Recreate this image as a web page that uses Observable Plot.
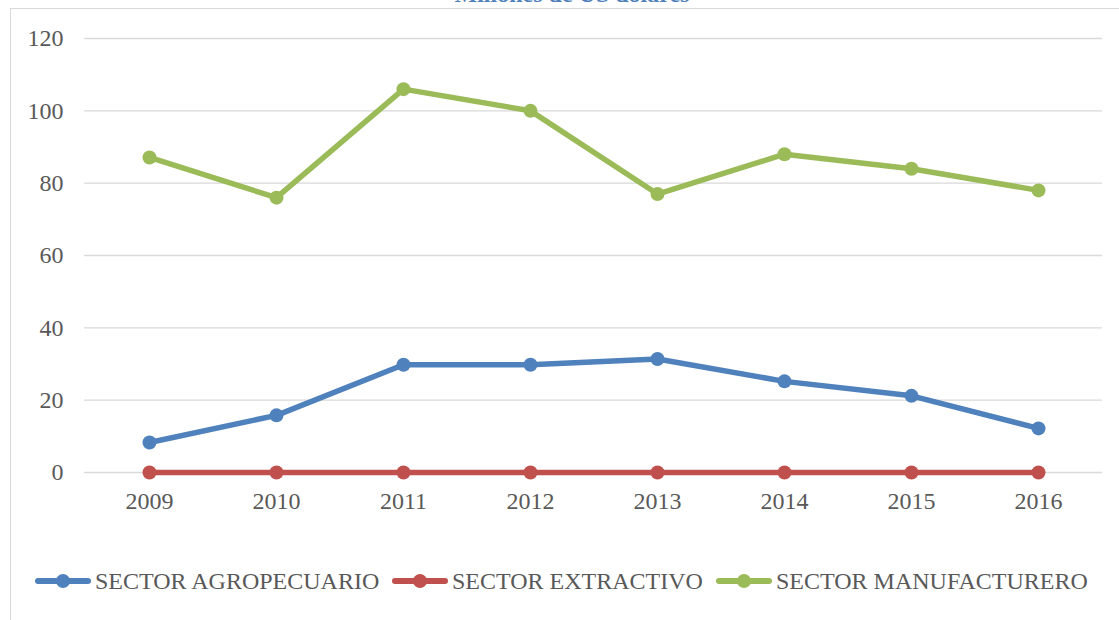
<!DOCTYPE html>
<html><head><meta charset="utf-8">
<script src="https://cdn.jsdelivr.net/npm/d3@7"></script>
<script src="https://cdn.jsdelivr.net/npm/@observablehq/plot@0.6"></script>
<style>
html,body{margin:0;padding:0;background:#fff;overflow:hidden;}
body{width:1119px;height:620px;position:relative;font-family:'Liberation Serif','Times New Roman',serif;}
#frame{position:absolute;left:10px;top:8px;width:1200px;height:700px;border-left:1.5px solid #d9d9d9;border-top:1.5px solid #d9d9d9;}
#title{position:absolute;left:0;width:1144px;text-align:center;top:-19px;font-weight:bold;font-size:24px;color:#4f81bd;}
#chart{position:absolute;left:0;top:0;}
#chart svg text{font-family:'Liberation Serif','Times New Roman',serif;}
#legend{position:absolute;left:0;top:566px;height:30px;width:1119px;}
.item{position:absolute;top:0;display:flex;align-items:center;font-size:24px;color:#595959;white-space:nowrap;}
.item svg{margin-right:4px;}
</style></head>
<body>
<div id="title">Millones de US dólares</div>
<div id="frame"></div>
<div id="chart"></div>
<div id="legend"></div>
<script>
const years = ["2009","2010","2011","2012","2013","2014","2015","2016"];
const agropecuario = [8.3, 15.8, 29.8, 29.8, 31.4, 25.2, 21.2, 12.2];
const extractivo = [0, 0, 0, 0, 0, 0, 0, 0];
const manufacturero = [87.1, 76.0, 106.0, 100.0, 77.0, 88.0, 84.0, 78.0];
const seriesNames = ["SECTOR AGROPECUARIO","SECTOR EXTRACTIVO","SECTOR MANUFACTURERO"];
const seriesColors = ["#4f81bd","#c0504d","#9bbb59"];
const yTicks = [0,20,40,60,80,100,120];

const seriesValues = [agropecuario, extractivo, manufacturero];
const data = [];
seriesNames.forEach((s,i)=>years.forEach((y,j)=>data.push({serie:s, year:y, value:seriesValues[i][j]})));

const plot = Plot.plot({
  width:1119, height:545,
  marginLeft:84, marginRight:17, marginTop:38, marginBottom:73,
  style:{fontFamily:"'Liberation Serif', 'Times New Roman', serif", fontSize:"24px", color:"#595959", background:"transparent"},
  x:{type:"point", domain:years, padding:0.5, label:null},
  y:{domain:[0,120], label:null},
  color:{domain:seriesNames, range:seriesColors},
  marks:[
    Plot.ruleY(yTicks, {stroke:"#d9d9d9", strokeWidth:1.3, strokeOpacity:1}),
    Plot.axisY({ticks:yTicks, tickSize:0, tickPadding:21, label:null, fill:"#595959"}),
    Plot.axisX({tickSize:0, tickPadding:19, label:null, fill:"#595959"}),
    Plot.line(data, {x:"year", y:"value", z:"serie", stroke:"serie", strokeWidth:5.5, strokeLinejoin:"round"}),
    Plot.dot(data, {x:"year", y:"value", fill:"serie", r:7, stroke:null})
  ]
});
document.getElementById("chart").appendChild(plot);

const legendX = [35, 392, 716];
const leg = document.getElementById("legend");
seriesNames.forEach((s,i)=>{
  const d = document.createElement("div");
  d.className="item";
  d.style.left = legendX[i]+"px";
  d.innerHTML = `<svg width="56" height="30"><line x1="3" y1="15" x2="53" y2="15" stroke="${seriesColors[i]}" stroke-width="6" stroke-linecap="round"/><circle cx="28" cy="15" r="7" fill="${seriesColors[i]}"/></svg><span>${s}</span>`;
  leg.appendChild(d);
});
</script>
</body></html>
